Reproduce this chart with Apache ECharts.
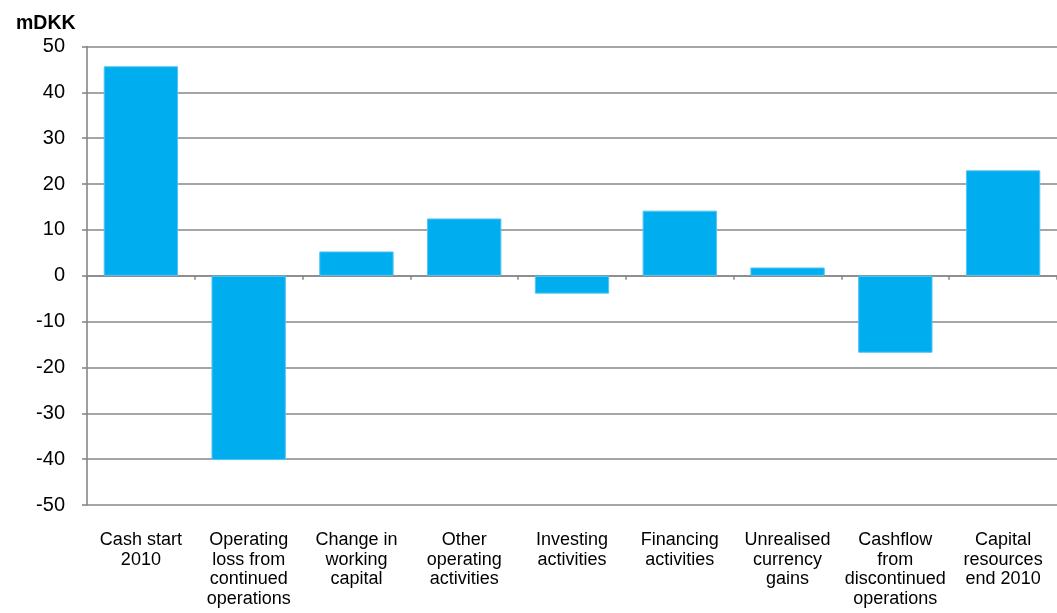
<!DOCTYPE html>
<html>
<head>
<meta charset="utf-8">
<script src="https://cdn.jsdelivr.net/npm/echarts@6/dist/echarts.min.js"></script>
<style>
  html, body { margin: 0; padding: 0; background: #fff; }
  #chart { width: 1057px; height: 613px; }
</style>
</head>
<body>
<div id="chart"></div>
<script>
// categories (line breaks as in the original)
const categories = [
  'Cash start\n2010',
  'Operating\nloss from\ncontinued\noperations',
  'Change in\nworking\ncapital',
  'Other\noperating\nactivities',
  'Investing\nactivities',
  'Financing\nactivities',
  'Unrealised\ncurrency\ngains',
  'Cashflow\nfrom\ndiscontinued\noperations',
  'Capital\nresources\nend 2010'
];
// values in mDKK
const values = [45.7, -40.2, 5.3, 12.5, -3.9, 14.2, 1.8, -16.8, 23.0];
const unitLabel = 'mDKK';

const gridColor = '#878787';
const textFont = 'Liberation Sans, Arial, sans-serif';

const chart = echarts.init(document.getElementById('chart'));
chart.setOption({
  animation: false,
  title: {
    text: unitLabel,
    left: 11,
    top: 9,
    textStyle: { fontFamily: textFont, fontSize: 19.5, fontWeight: 'bold', color: '#000' }
  },
  grid: { left: 87, right: 0, top: 46.5, bottom: 108 },
  xAxis: [
    {
      // zero line with ticks between categories
      type: 'category',
      data: categories,
      axisLine: { onZero: true, lineStyle: { color: gridColor, width: 1.6 } },
      axisTick: { show: true, length: 4, lineStyle: { color: gridColor, width: 1.5 } },
      axisLabel: { show: false }
    },
    {
      // labels under the plot
      type: 'category',
      data: categories,
      position: 'bottom',
      axisLine: { show: false, onZero: false },
      axisTick: { show: false },
      axisLabel: {
        interval: 0,
        margin: 25,
        fontFamily: textFont,
        fontSize: 18,
        lineHeight: 19.7,
        color: '#000'
      }
    }
  ],
  yAxis: {
    type: 'value',
    min: -50,
    max: 50,
    interval: 10,
    axisLine: { show: true, lineStyle: { color: gridColor, width: 1.6 } },
    axisTick: { show: true, length: 5, lineStyle: { color: gridColor, width: 1.6 } },
    splitLine: { lineStyle: { color: gridColor, width: 1.6 } },
    axisLabel: {
      margin: 22,
      fontFamily: textFont,
      fontSize: 20,
      color: '#000'
    }
  },
  series: [
    {
      type: 'bar',
      xAxisIndex: 0,
      data: values,
      barWidth: '69%',
      itemStyle: { color: '#00aeef', borderColor: '#55c6f2', borderWidth: 1 }
    }
  ]
});
</script>
</body>
</html>
